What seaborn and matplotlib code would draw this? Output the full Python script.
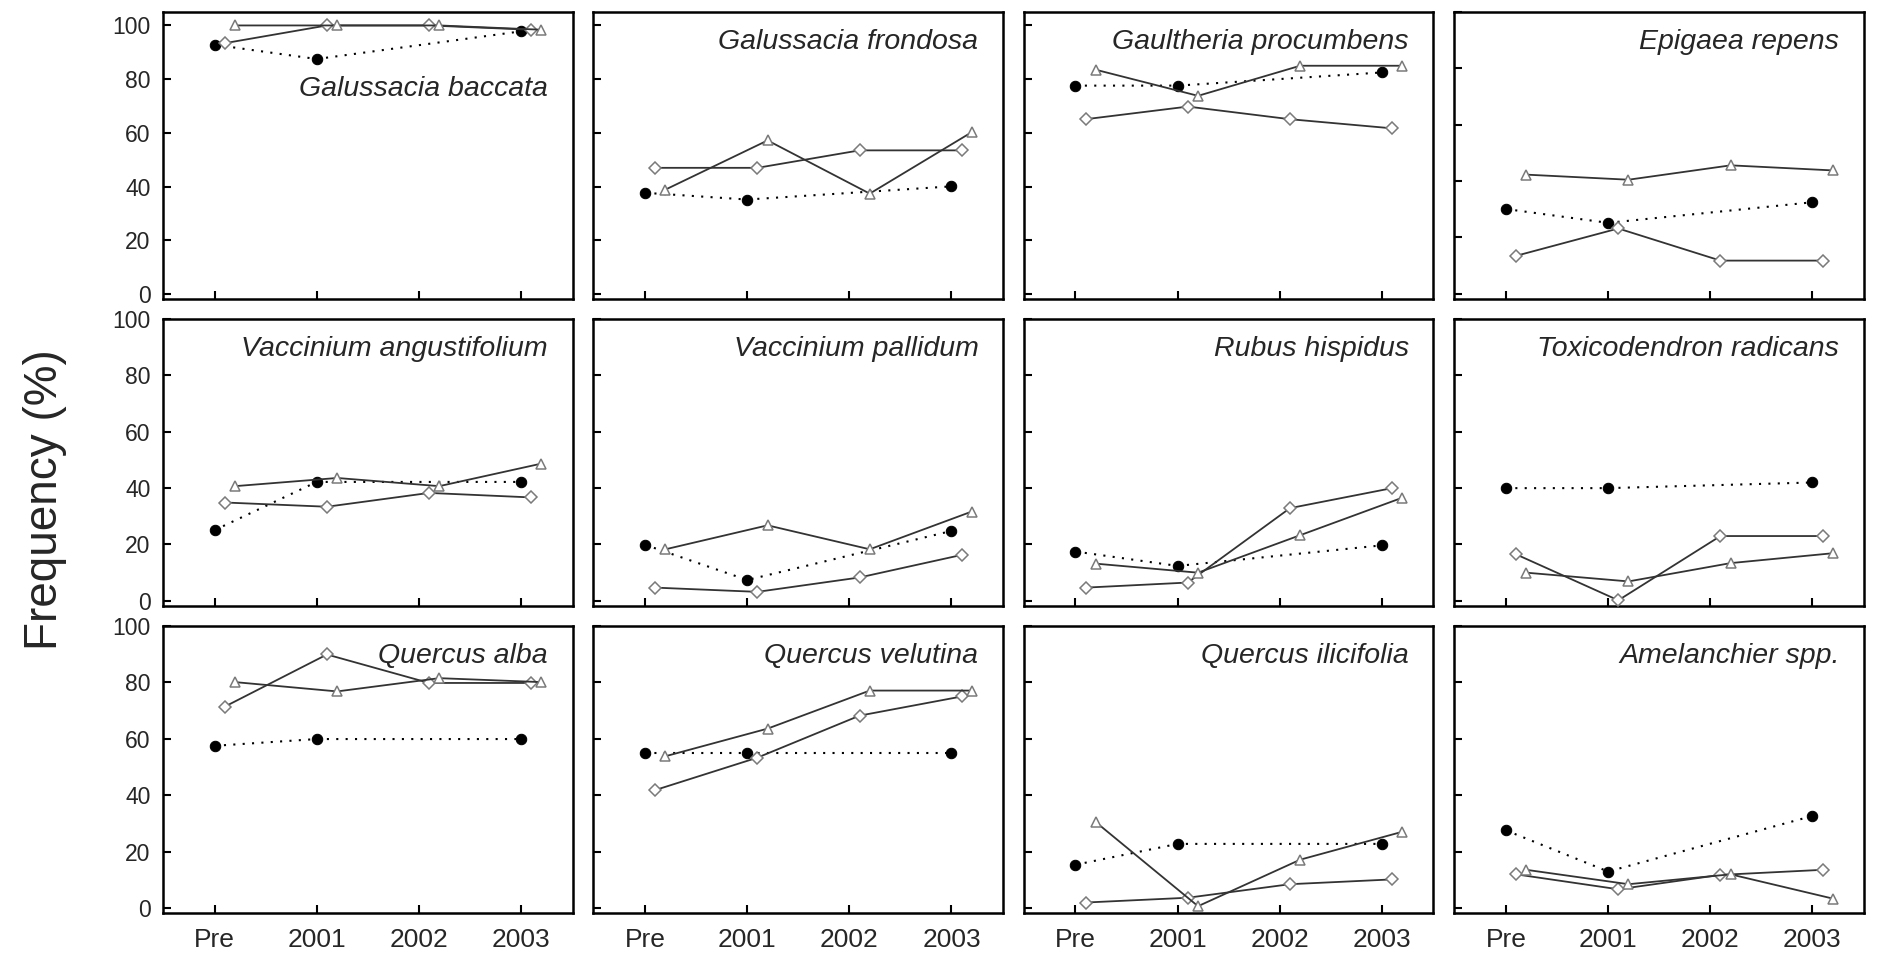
import matplotlib
matplotlib.use("Agg")
import matplotlib.pyplot as plt
import seaborn as sns
import pandas as pd

# sampling periods on the x axis
years = ["Pre", "2001", "2002", "2003"]
circle_years = ["Pre", "2001", "2003"]

species = [
    "Galussacia baccata", "Galussacia frondosa", "Gaultheria procumbens", "Epigaea repens",
    "Vaccinium angustifolium", "Vaccinium pallidum", "Rubus hispidus", "Toxicodendron radicans",
    "Quercus alba", "Quercus velutina", "Quercus ilicifolia", "Amelanchier spp.",
]

# filled circles, dotted line (no 2002 survey)
circle_vals = [
    [92.8, 87.5, 97.8], [37.7, 35.2, 40.1], [77.6, 77.6, 82.5], [30.1, 25.2, 32.5],
    [25.1, 42.2, 42.2], [19.9, 7.4, 24.8], [17.5, 12.4, 19.7], [40.0, 40.0, 42.0],
    [57.5, 59.9, 59.9], [55.0, 55.0, 55.0], [15.3, 22.7, 22.7], [27.5, 12.9, 32.6],
]

# open diamonds, solid line
diamond_vals = [
    [93.4, 100, 100, 98.4], [47.0, 47.0, 53.5, 53.5], [65.1, 69.8, 65.1, 61.7], [13.5, 23.2, 11.8, 11.8],
    [34.9, 33.4, 38.3, 36.7], [4.7, 3.2, 8.3, 16.3], [4.7, 6.5, 32.9, 40.0], [16.5, 0.2, 23.0, 23.0],
    [71.4, 89.9, 79.8, 79.8], [41.8, 53.3, 68.2, 75.0], [1.9, 3.6, 8.4, 10.1], [11.9, 6.6, 11.7, 13.5],
]

# open triangles, solid line
triangle_vals = [
    [100, 100, 100, 98.4], [38.9, 57.2, 37.4, 60.3], [83.5, 73.8, 85.0, 85.0], [42.3, 40.5, 45.6, 43.8],
    [40.7, 43.6, 40.7, 48.7], [18.3, 26.8, 18.3, 31.7], [13.2, 10.0, 23.3, 36.6], [10.0, 6.9, 13.4, 16.9],
    [80.1, 76.8, 81.5, 80.1], [53.8, 63.6, 77.1, 77.1], [30.4, 0.6, 17.1, 27.0], [13.5, 8.4, 11.9, 3.3],
]

sns.set_style("ticks")
plt.rcParams["font.family"] = ["Liberation Sans", "DejaVu Sans"]

xpos = {y: i for i, y in enumerate(years)}

fig, axes = plt.subplots(3, 4, figsize=(18.78, 9.61), dpi=100)
fig.subplots_adjust(left=0.0868, right=0.9925, top=0.9875, bottom=0.05,
                    wspace=0.051, hspace=0.07)

for k, ax in enumerate(axes.flat):
    df_c = pd.DataFrame({"x": [xpos[y] for y in circle_years], "v": circle_vals[k]})
    df_d = pd.DataFrame({"x": [xpos[y] + 0.1 for y in years], "v": diamond_vals[k]})
    df_t = pd.DataFrame({"x": [xpos[y] + 0.2 for y in years], "v": triangle_vals[k]})

    sns.lineplot(data=df_c, x="x", y="v", ax=ax, errorbar=None, color="black",
                 linestyle=(0, (1, 3.5)), linewidth=1.5, marker="o", markersize=7.5,
                 markerfacecolor="black", markeredgecolor="black", zorder=3)
    sns.lineplot(data=df_d, x="x", y="v", ax=ax, errorbar=None, color="#333333",
                 linewidth=1.3, marker="D", markersize=5.8, markerfacecolor="white",
                 markeredgecolor="#7a7a7a", markeredgewidth=1.1, zorder=4)
    sns.lineplot(data=df_t, x="x", y="v", ax=ax, errorbar=None, color="#333333",
                 linewidth=1.3, marker="^", markersize=7.5, markerfacecolor="white",
                 markeredgecolor="#7a7a7a", markeredgewidth=1.1, zorder=5)

    ax.set_xlim(-0.505, 3.505)
    ax.set_ylim(-1.8, 105 if k < 3 else 100)
    ax.set_xticks(range(len(years)))
    ax.set_xticklabels(years)
    ax.set_yticks([0, 20, 40, 60, 80, 100])
    ax.set_xlabel("")
    ax.set_ylabel("")

    for side in ["top", "right", "bottom", "left"]:
        ax.spines[side].set_visible(True)
        ax.spines[side].set_linewidth(1.8)
        ax.spines[side].set_color("black")

    ax.tick_params(axis="both", direction="in", length=6, width=1.5, color="black")
    ax.tick_params(axis="y", labelsize=16.5, pad=9, labelleft=(k % 4 == 0))
    ax.tick_params(axis="x", labelsize=19, pad=11, labelbottom=(k >= 8))

    label_y = 0.709 if k == 0 else 0.872
    ax.text(0.94, label_y, species[k], transform=ax.transAxes, ha="right",
            va="baseline", fontsize=20.5, style="italic")

fig.text(0.024, 0.48, "Frequency (%)", rotation=90, ha="center", va="center", fontsize=33)

plt.savefig("out.png", dpi=100)
